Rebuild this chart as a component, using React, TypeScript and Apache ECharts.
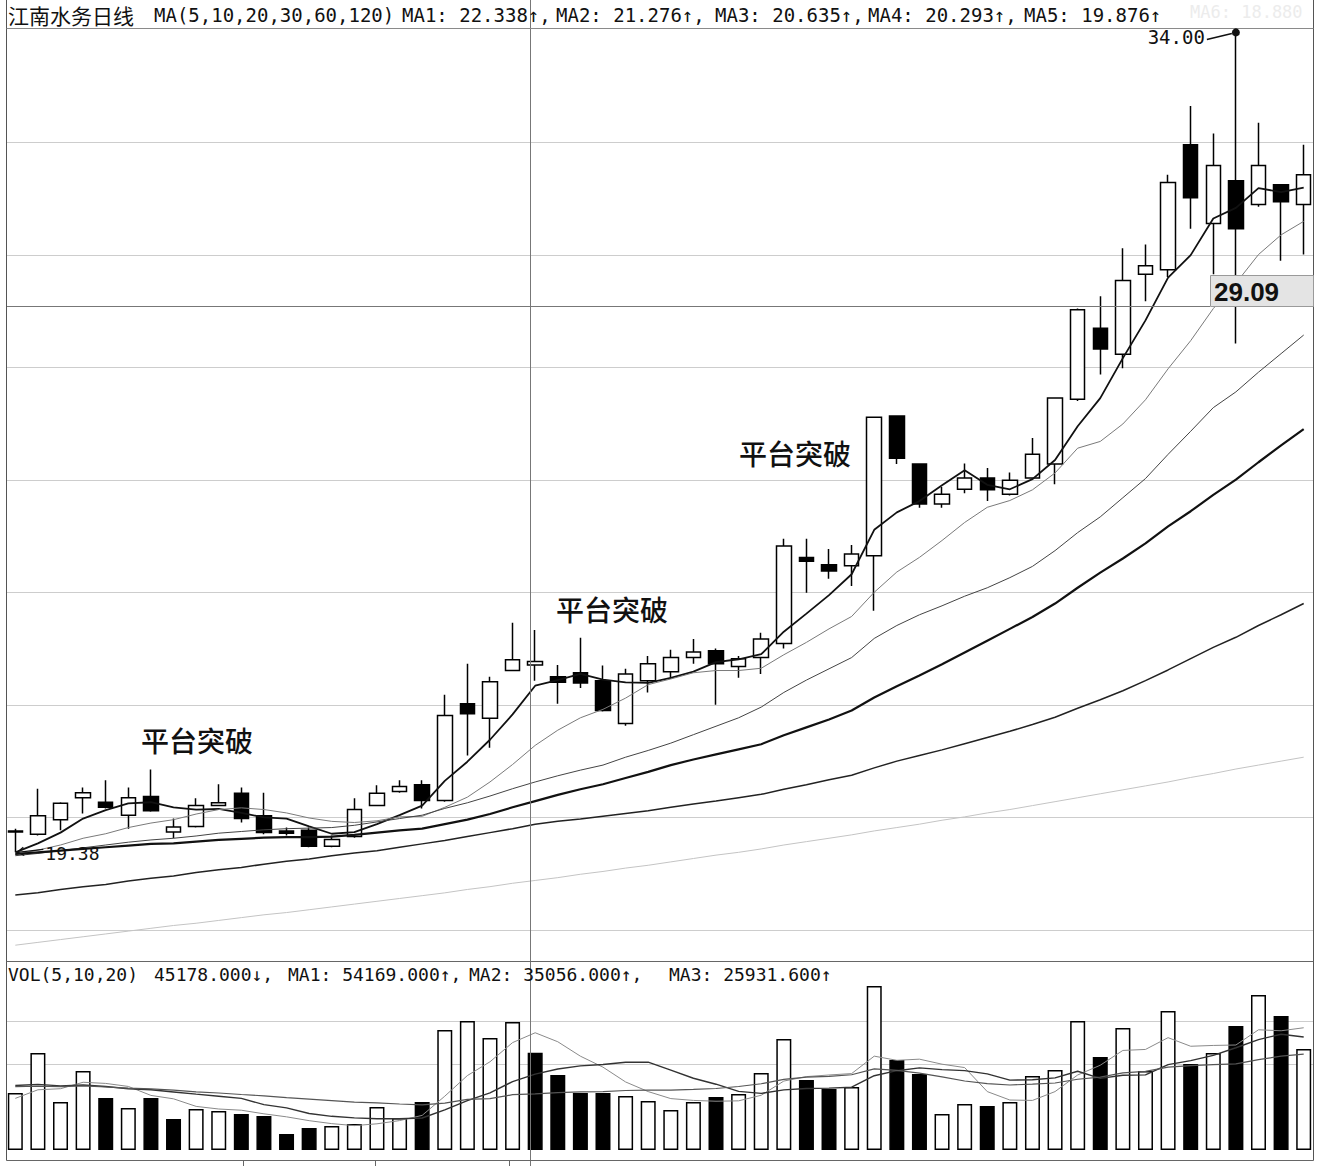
import React, { useEffect, useRef } from "react";
import * as echarts from "echarts";

// ---------- data ----------
const categories = Array.from({ length: 58 }, (_, i) => "D" + (i + 1));

const opens = [19.74, 19.70, 19.96, 20.35, 20.27, 20.04, 20.37, 19.74, 19.84, 20.21, 20.43, 20.03, 19.76, 19.77, 19.49, 19.66, 20.21, 20.46, 20.58, 20.30, 22.02, 21.76, 22.61, 22.71, 22.50, 22.57, 22.43, 21.67, 22.43, 22.59, 22.84, 22.96, 22.68, 22.84, 23.09, 24.62, 24.49, 24.47, 24.65, 27.13, 26.28, 25.57, 25.83, 26.03, 25.74, 26.03, 26.28, 27.43, 28.69, 28.23, 29.65, 29.73, 31.95, 30.55, 31.31, 30.89, 31.24, 30.89];
const closes = [19.76, 20.03, 20.25, 20.44, 20.18, 20.35, 20.12, 19.83, 20.21, 20.26, 19.98, 19.73, 19.72, 19.49, 19.61, 20.14, 20.43, 20.55, 20.30, 21.81, 21.84, 22.41, 22.80, 22.77, 22.40, 22.39, 21.90, 22.55, 22.73, 22.84, 22.94, 22.73, 22.82, 23.17, 24.82, 24.55, 24.38, 24.68, 27.11, 26.38, 25.57, 25.74, 26.03, 25.82, 25.99, 26.45, 27.45, 29.02, 28.32, 29.54, 29.80, 31.28, 31.01, 31.58, 30.46, 31.58, 30.94, 31.42];
const lows = [19.38, 19.68, 19.77, 20.07, 20.16, 19.80, 20.10, 19.63, 19.82, 20.20, 19.91, 19.70, 19.68, 19.47, 19.47, 19.64, 20.20, 20.44, 20.16, 20.28, 21.10, 21.24, 22.60, 22.43, 22.02, 22.30, 21.88, 21.63, 22.22, 22.46, 22.73, 22.00, 22.48, 22.55, 23.00, 23.99, 24.24, 24.11, 23.67, 26.28, 25.50, 25.50, 25.76, 25.62, 25.72, 26.00, 25.92, 27.40, 27.87, 27.98, 29.17, 29.60, 30.46, 29.65, 28.42, 30.85, 29.89, 30.00];
const highs = [19.80, 20.51, 20.27, 20.53, 20.66, 20.53, 20.85, 19.98, 20.34, 20.59, 20.53, 20.44, 19.82, 19.82, 19.68, 20.34, 20.57, 20.66, 20.66, 22.18, 22.73, 22.50, 23.46, 23.33, 22.71, 23.19, 22.70, 22.64, 22.87, 22.98, 23.17, 23.00, 22.87, 23.28, 24.95, 24.95, 24.77, 24.84, 27.11, 27.13, 26.28, 25.87, 26.29, 26.21, 26.13, 26.74, 27.45, 29.04, 29.26, 30.11, 30.18, 31.42, 32.64, 32.15, 34.00, 32.34, 31.25, 31.95];

const volumes = [26500, 45100, 22300, 36700, 24200, 19500, 24200, 14400, 19100, 18100, 16700, 15800, 7400, 10200, 11200, 12100, 20000, 14900, 22300, 55800, 60000, 52100, 59500, 45178, 34900, 26500, 26500, 25100, 22800, 18600, 22300, 24600, 26000, 35800, 51600, 32600, 28400, 29300, 76300, 41900, 35300, 16700, 21400, 20500, 22300, 34400, 37200, 60000, 43200, 56700, 36700, 64600, 40000, 45100, 57700, 72100, 62300, 47000];

const ma5 = [19.38, 19.54, 19.73, 19.98, 20.13, 20.25, 20.27, 20.18, 20.14, 20.15, 20.08, 20.00, 19.98, 19.84, 19.71, 19.74, 19.88, 20.04, 20.21, 20.65, 20.99, 21.38, 21.83, 22.34, 22.44, 22.55, 22.45, 22.40, 22.39, 22.48, 22.59, 22.76, 22.81, 22.90, 23.30, 23.62, 23.95, 24.32, 25.11, 25.42, 25.62, 25.90, 26.17, 25.91, 25.83, 26.01, 26.35, 26.95, 27.45, 28.16, 28.83, 29.59, 29.99, 30.64, 30.83, 31.18, 31.11, 31.19];
const ma10 = [19.34, 19.42, 19.51, 19.63, 19.71, 19.82, 19.90, 19.96, 20.06, 20.14, 20.17, 20.14, 20.08, 19.99, 19.93, 19.91, 19.94, 20.01, 20.02, 20.18, 20.36, 20.63, 20.94, 21.28, 21.55, 21.77, 21.92, 22.12, 22.36, 22.46, 22.57, 22.61, 22.61, 22.65, 22.89, 23.11, 23.35, 23.57, 24.00, 24.36, 24.62, 24.92, 25.24, 25.51, 25.63, 25.82, 26.12, 26.56, 26.68, 26.99, 27.42, 27.97, 28.47, 29.04, 29.49, 30.00, 30.35, 30.59];
const ma20 = [19.32, 19.36, 19.41, 19.46, 19.51, 19.56, 19.60, 19.63, 19.67, 19.72, 19.75, 19.78, 19.80, 19.81, 19.82, 19.86, 19.92, 19.98, 20.04, 20.16, 20.26, 20.38, 20.51, 20.63, 20.74, 20.84, 20.93, 21.07, 21.19, 21.32, 21.47, 21.62, 21.77, 21.96, 22.22, 22.44, 22.64, 22.84, 23.18, 23.41, 23.60, 23.76, 23.93, 24.08, 24.26, 24.46, 24.74, 25.06, 25.34, 25.68, 26.02, 26.45, 26.86, 27.28, 27.56, 27.91, 28.24, 28.57];
const ma30 = [19.35, 19.38, 19.41, 19.44, 19.47, 19.50, 19.53, 19.54, 19.57, 19.60, 19.62, 19.64, 19.65, 19.65, 19.66, 19.69, 19.73, 19.77, 19.80, 19.88, 19.96, 20.06, 20.18, 20.29, 20.40, 20.50, 20.59, 20.70, 20.81, 20.93, 21.03, 21.12, 21.21, 21.30, 21.46, 21.60, 21.74, 21.90, 22.13, 22.33, 22.52, 22.72, 22.93, 23.14, 23.35, 23.56, 23.80, 24.08, 24.35, 24.60, 24.87, 25.17, 25.44, 25.73, 26.00, 26.31, 26.61, 26.90];
const ma60 = [18.62, 18.66, 18.72, 18.77, 18.81, 18.87, 18.92, 18.96, 19.02, 19.07, 19.11, 19.17, 19.22, 19.26, 19.32, 19.37, 19.41, 19.47, 19.53, 19.59, 19.66, 19.73, 19.80, 19.88, 19.93, 19.97, 20.02, 20.07, 20.12, 20.18, 20.24, 20.29, 20.35, 20.41, 20.50, 20.58, 20.67, 20.75, 20.88, 21.00, 21.10, 21.20, 21.31, 21.42, 21.53, 21.65, 21.78, 21.94, 22.09, 22.25, 22.43, 22.62, 22.82, 23.02, 23.20, 23.41, 23.60, 23.80];
const ma120 = [17.73, 17.78, 17.83, 17.88, 17.93, 17.98, 18.03, 18.08, 18.12, 18.17, 18.22, 18.27, 18.31, 18.36, 18.41, 18.46, 18.51, 18.56, 18.61, 18.66, 18.72, 18.77, 18.83, 18.88, 18.93, 18.99, 19.04, 19.10, 19.15, 19.21, 19.27, 19.33, 19.38, 19.44, 19.51, 19.57, 19.63, 19.69, 19.76, 19.82, 19.88, 19.95, 20.01, 20.08, 20.14, 20.21, 20.28, 20.35, 20.42, 20.49, 20.56, 20.63, 20.71, 20.78, 20.86, 20.93, 21.00, 21.07];

const volMa5 = [24000, 28000, 28500, 31500, 30960, 29560, 25380, 23800, 20280, 19060, 18500, 16820, 15420, 13640, 12260, 11340, 12180, 13680, 16100, 25020, 34600, 41020, 49940, 54516, 50336, 43636, 38516, 31636, 27160, 23900, 23060, 22680, 22860, 25460, 32060, 34120, 34880, 35540, 43640, 41700, 42240, 39900, 38320, 27160, 23240, 23060, 27160, 34880, 39420, 46300, 46760, 52240, 48240, 48620, 48820, 55900, 55440, 56840];
const volMa10 = [30000, 30500, 29800, 30200, 29500, 28500, 28000, 27000, 26000, 25010, 24030, 21100, 19610, 16960, 15660, 14920, 14500, 14550, 14870, 18640, 22970, 26600, 31810, 35308, 37678, 39118, 39768, 40788, 40838, 37118, 33348, 30598, 27248, 26310, 27980, 28590, 28780, 29200, 34550, 36880, 38180, 37390, 36930, 35400, 32470, 32650, 33530, 36600, 33290, 34770, 34910, 39700, 41560, 44020, 47560, 51330, 53840, 52540];
const volMa20 = [29500, 29700, 29500, 29800, 29300, 28800, 28400, 27800, 27000, 26500, 25800, 25200, 24400, 23700, 23000, 22300, 21900, 21400, 21000, 21825, 23500, 23850, 25710, 26134, 26669, 27019, 27134, 27669, 27854, 27879, 28159, 28599, 29529, 30809, 32829, 33854, 34274, 34994, 37694, 36999, 35764, 33994, 32089, 30855, 30225, 30620, 31155, 32900, 33920, 35825, 36545, 38545, 39245, 39710, 40015, 41990, 43685, 44570];

const priceGridLevels = [18, 20, 22, 24, 26, 28, 30, 32];
const volGridLevels = [40000, 60000];
const crossPrice = 29.09;

const headerTitle = "江南水务日线";
const headerMaDef = "MA(5,10,20,30,60,120)";
const headerMaTexts = ["MA1: 22.338↑,", "MA2: 21.276↑,", "MA3: 20.635↑,", "MA4: 20.293↑,", "MA5: 19.876↑"];
const headerMa6 = "MA6: 18.880";
const volHeaderTexts = ["VOL(5,10,20)", "45178.000↓,", "MA1: 54169.000↑,", "MA2: 35056.000↑,", "MA3: 25931.600↑"];
const annotationText = "平台突破";

// ---------- layout ----------
const W = 1320;
const H = 1166;
const LEFT_X = 6.5;
const RIGHT_X = 1313.5;
const MONO = '"DejaVu Sans Mono", monospace';
const CJK = '"Noto Sans CJK SC", sans-serif';

export default function App() {
  const ref = useRef<HTMLDivElement>(null);

  useEffect(() => {
    const el = ref.current;
    if (!el) return;
    const chart = echarts.init(el, null, { renderer: "svg", width: W, height: H });

    const candleData = opens.map((o, i) => [o, closes[i], lows[i], highs[i]]);
    const volData = volumes.map((v, i) => {
      const up = i === 0 || closes[i] >= closes[i - 1];
      return {
        value: v,
        itemStyle: up
          ? { color: "#ffffff", borderColor: "#000000", borderWidth: 1.5 }
          : { color: "#000000", borderColor: "#000000", borderWidth: 1.5 },
      };
    });

    const maDefs = [
      { data: ma5, color: "#111111", width: 1.8 },
      { data: ma10, color: "#7a7a7a", width: 1 },
      { data: ma20, color: "#444444", width: 1 },
      { data: ma30, color: "#111111", width: 2.2 },
      { data: ma60, color: "#222222", width: 1.5 },
      { data: ma120, color: "#c4c4c4", width: 1 },
    ];
    const volMaDefs = [
      { data: volMa5, color: "#8a8a8a", width: 1 },
      { data: volMa10, color: "#333333", width: 1.4 },
      { data: volMa20, color: "#555555", width: 1.2 },
    ];

    const option: any = {
      animation: false,
      backgroundColor: "#ffffff",
      grid: [
        { left: 4, right: 5, top: 28, height: 932 },
        { left: 4, right: 5, top: 962, height: 188 },
      ],
      xAxis: [
        { type: "category", gridIndex: 0, data: categories, boundaryGap: true, show: false },
        { type: "category", gridIndex: 1, data: categories, boundaryGap: true, show: false },
      ],
      yAxis: [
        { type: "value", gridIndex: 0, min: 17.467, max: 34.025, show: false, splitLine: { show: false } },
        { type: "value", gridIndex: 1, min: 0, max: 87420, show: false, splitLine: { show: false } },
      ],
      series: [
        {
          type: "candlestick",
          xAxisIndex: 0,
          yAxisIndex: 0,
          data: candleData,
          barWidth: 15,
          silent: true,
          z: 2,
          itemStyle: {
            color: "#ffffff",
            color0: "#000000",
            borderColor: "#000000",
            borderColor0: "#000000",
            borderColorDoji: "#000000",
            borderWidth: 1.5,
          },
        },
        ...maDefs.map((m) => ({
          type: "line",
          xAxisIndex: 0,
          yAxisIndex: 0,
          data: m.data,
          symbol: "none",
          showSymbol: false,
          silent: true,
          z: 3,
          lineStyle: { color: m.color, width: m.width },
        })),
        {
          type: "bar",
          xAxisIndex: 1,
          yAxisIndex: 1,
          data: volData,
          barWidth: 15,
          silent: true,
          z: 2,
        },
        ...volMaDefs.map((m) => ({
          type: "line",
          xAxisIndex: 1,
          yAxisIndex: 1,
          data: m.data,
          symbol: "none",
          showSymbol: false,
          silent: true,
          z: 3,
          lineStyle: { color: m.color, width: m.width },
        })),
      ],
    };

    chart.setOption(option);

    const pPix = (i: number, v: number) =>
      chart.convertToPixel({ gridIndex: 0 }, [i, v]) as unknown as number[];
    const vPix = (i: number, v: number) =>
      chart.convertToPixel({ gridIndex: 1 }, [i, v]) as unknown as number[];
    const crisp = (y: number) => Math.round(y) + 0.5;

    const els: any[] = [];

    // grid lines (behind the marks)
    priceGridLevels.forEach((lv) => {
      const y = crisp(pPix(0, lv)[1]);
      els.push({ type: "line", z: 0, silent: true, shape: { x1: LEFT_X, y1: y, x2: RIGHT_X, y2: y }, style: { stroke: "#cdcdcd", lineWidth: 1 } });
    });
    volGridLevels.forEach((lv) => {
      const y = crisp(vPix(0, lv)[1]);
      els.push({ type: "line", z: 0, silent: true, shape: { x1: LEFT_X, y1: y, x2: RIGHT_X, y2: y }, style: { stroke: "#cdcdcd", lineWidth: 1 } });
    });

    // frame
    const frame = (x1: number, y1: number, x2: number, y2: number, c: string) =>
      els.push({ type: "line", z: 50, silent: true, shape: { x1, y1, x2, y2 }, style: { stroke: c, lineWidth: 1 } });
    frame(LEFT_X, 0, LEFT_X, 1160.5, "#555555");
    frame(RIGHT_X, 0, RIGHT_X, 1160.5, "#555555");
    frame(LEFT_X, 28.5, RIGHT_X, 28.5, "#8a8a8a");
    frame(LEFT_X, 961.5, RIGHT_X, 961.5, "#666666");
    frame(LEFT_X, 1160.5, RIGHT_X, 1160.5, "#666666");
    [243.5, 375.5, 509.5].forEach((x) => frame(x, 1160.5, x, 1166, "#666666"));

    // crosshair vertical
    els.push({ type: "line", z: 40, silent: true, shape: { x1: 530.5, y1: 0, x2: 530.5, y2: 1166 }, style: { stroke: "#777777", lineWidth: 1 } });

    // crosshair horizontal + price box
    const cy = crisp(pPix(0, crossPrice)[1]);
    els.push({ type: "line", z: 40, silent: true, shape: { x1: LEFT_X, y1: cy, x2: 1210, y2: cy }, style: { stroke: "#777777", lineWidth: 1 } });
    els.push({ type: "rect", z: 60, silent: true, shape: { x: 1210.5, y: cy - 31, width: RIGHT_X - 1210.5, height: 31 }, style: { fill: "#e4e4e4", stroke: "#9a9a9a", lineWidth: 1 } });
    els.push({ type: "text", z: 61, silent: true, x: 1214, y: cy - 15, style: { text: crossPrice.toFixed(2), fill: "#111111", font: 'bold 26px "Liberation Sans", sans-serif', verticalAlign: "middle", align: "left" } });

    // header
    els.push({ type: "text", z: 70, silent: true, x: 8, y: 15, style: { text: headerTitle, fill: "#111111", font: "21px " + CJK, verticalAlign: "middle" } });
    els.push({ type: "text", z: 70, silent: true, x: 154, y: 15, style: { text: headerMaDef, fill: "#111111", font: "19px " + MONO, verticalAlign: "middle" } });
    const maX = [402, 556, 715, 868, 1024];
    headerMaTexts.forEach((t, k) => {
      els.push({ type: "text", z: 70, silent: true, x: maX[k], y: 15, style: { text: t, fill: "#111111", font: "19px " + MONO, verticalAlign: "middle" } });
    });
    els.push({ type: "text", z: 70, silent: true, x: 1190, y: 12, style: { text: headerMa6, fill: "#ececec", font: "17px " + MONO, verticalAlign: "middle" } });

    // volume header
    const vX = [8, 154, 288, 469, 669];
    volHeaderTexts.forEach((t, k) => {
      els.push({ type: "text", z: 70, silent: true, x: vX[k], y: 974, style: { text: t, fill: "#111111", font: "18px " + MONO, verticalAlign: "middle" } });
    });

    // annotations
    const annPos = [[197, 740], [612, 609], [795, 453]];
    annPos.forEach(([x, y]) => {
      els.push({ type: "text", z: 70, silent: true, x, y, style: { text: annotationText, fill: "#111111", font: "500 28px " + CJK, align: "center", verticalAlign: "middle" } });
    });

    // low marker
    let lowIdx = 0;
    lows.forEach((v, i) => { if (v < lows[lowIdx]) lowIdx = i; });
    const [lx, ly] = pPix(lowIdx, lows[lowIdx]);
    els.push({ type: "line", z: 70, silent: true, shape: { x1: lx + 2, y1: ly, x2: lx + 28, y2: ly - 3 }, style: { stroke: "#111111", lineWidth: 1.3 } });
    els.push({ type: "polyline", z: 70, silent: true, shape: { points: [[lx + 8, ly - 5], [lx + 2, ly], [lx + 9, ly + 3]] }, style: { stroke: "#111111", lineWidth: 1.3, fill: "none" } });
    els.push({ type: "text", z: 70, silent: true, x: lx + 30, y: ly + 1, style: { text: lows[lowIdx].toFixed(2), fill: "#111111", font: "18px " + MONO, verticalAlign: "middle" } });

    // high marker
    let hiIdx = 0;
    highs.forEach((v, i) => { if (v > highs[hiIdx]) hiIdx = i; });
    const [hx, hy] = pPix(hiIdx, highs[hiIdx]);
    els.push({ type: "circle", z: 70, silent: true, shape: { cx: hx, cy: hy + 3, r: 4 }, style: { fill: "#111111" } });
    els.push({ type: "line", z: 70, silent: true, shape: { x1: hx - 29, y1: hy + 10, x2: hx - 4, y2: hy + 4 }, style: { stroke: "#111111", lineWidth: 1.5 } });
    els.push({ type: "text", z: 70, silent: true, x: hx - 31, y: hy + 8, style: { text: highs[hiIdx].toFixed(2), fill: "#111111", font: "19px " + MONO, align: "right", verticalAlign: "middle" } });

    chart.setOption({ graphic: { elements: els } });

    return () => {
      chart.dispose();
    };
  }, []);

  return (
    <div
      ref={ref}
      style={{ position: "absolute", left: 0, top: 0, width: W, height: H, background: "#ffffff" }}
    />
  );
}
